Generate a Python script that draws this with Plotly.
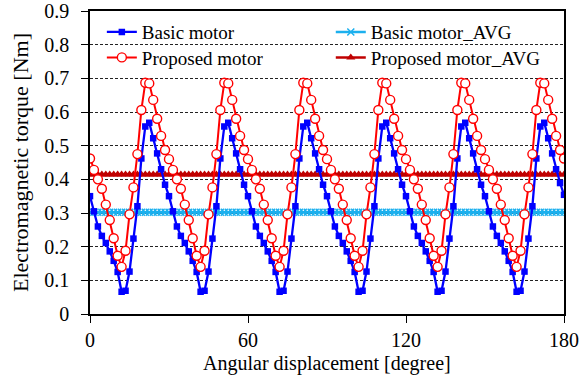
import plotly.graph_objects as go

# ---- data ----
STEP_DEG = 1.5
angle = [round(i * STEP_DEG, 1) for i in range(121)]

basic_motor = [
    0.350, 0.305, 0.260, 0.232, 0.211, 0.186, 0.158, 0.125, 0.066, 0.069,
    0.126, 0.224, 0.320, 0.462, 0.557, 0.568, 0.522, 0.477, 0.430, 0.384,
    0.350, 0.305, 0.260, 0.232, 0.211, 0.186, 0.158, 0.125, 0.066, 0.069,
    0.126, 0.224, 0.320, 0.462, 0.557, 0.568, 0.522, 0.477, 0.430, 0.384,
    0.350, 0.305, 0.260, 0.232, 0.211, 0.186, 0.158, 0.125, 0.066, 0.069,
    0.126, 0.224, 0.320, 0.462, 0.557, 0.568, 0.522, 0.477, 0.430, 0.384,
    0.350, 0.305, 0.260, 0.232, 0.211, 0.186, 0.158, 0.125, 0.066, 0.069,
    0.126, 0.224, 0.320, 0.462, 0.557, 0.568, 0.522, 0.477, 0.430, 0.384,
    0.350, 0.305, 0.260, 0.232, 0.211, 0.186, 0.158, 0.125, 0.066, 0.069,
    0.126, 0.224, 0.320, 0.462, 0.557, 0.568, 0.522, 0.477, 0.430, 0.384,
    0.350, 0.305, 0.260, 0.232, 0.211, 0.186, 0.158, 0.125, 0.066, 0.069,
    0.126, 0.224, 0.320, 0.462, 0.557, 0.568, 0.522, 0.477, 0.430, 0.389,
    0.354,
]

proposed_motor = [
    0.462, 0.428, 0.400, 0.372, 0.325, 0.279, 0.225, 0.173, 0.140, 0.188,
    0.296, 0.376, 0.475, 0.606, 0.687, 0.685, 0.636, 0.580, 0.529, 0.487,
    0.460, 0.428, 0.400, 0.372, 0.325, 0.279, 0.225, 0.173, 0.140, 0.188,
    0.296, 0.376, 0.475, 0.606, 0.687, 0.685, 0.636, 0.580, 0.529, 0.487,
    0.460, 0.428, 0.400, 0.372, 0.325, 0.279, 0.225, 0.173, 0.140, 0.188,
    0.296, 0.376, 0.475, 0.606, 0.687, 0.685, 0.636, 0.580, 0.529, 0.487,
    0.460, 0.428, 0.400, 0.372, 0.325, 0.279, 0.225, 0.173, 0.140, 0.188,
    0.296, 0.376, 0.475, 0.606, 0.687, 0.685, 0.636, 0.580, 0.529, 0.487,
    0.460, 0.428, 0.400, 0.372, 0.325, 0.279, 0.225, 0.173, 0.140, 0.188,
    0.296, 0.376, 0.475, 0.606, 0.687, 0.685, 0.636, 0.580, 0.529, 0.487,
    0.460, 0.428, 0.400, 0.372, 0.325, 0.279, 0.225, 0.173, 0.140, 0.188,
    0.296, 0.376, 0.475, 0.606, 0.687, 0.685, 0.636, 0.580, 0.529, 0.487,
    0.462,
]

basic_motor_avg_value = 0.302
proposed_motor_avg_value = 0.414
basic_motor_avg = [basic_motor_avg_value for _ in angle]
proposed_motor_avg = [proposed_motor_avg_value for _ in angle]

x_ticks = [0, 60, 120, 180]
y_ticks = [0, 0.1, 0.2, 0.3, 0.4, 0.5, 0.6, 0.7, 0.8, 0.9]
y_tick_text = ["0", "0.1", "0.2", "0.3", "0.4", "0.5", "0.6", "0.7", "0.8", "0.9"]

x_title = "Angular displacement [degree]"
y_title = "Electromagnetic torque [Nm]"

FONT = "Liberation Serif, Times New Roman, serif"

fig = go.Figure()

fig.add_trace(go.Scatter(
    x=angle, y=basic_motor_avg, name="Basic motor_AVG", mode="lines+markers",
    line=dict(color="#1CB0EE", width=2.5),
    marker=dict(symbol="x-thin", size=7, line=dict(color="#1CB0EE", width=1.5)),
    legend="legend2",
))
fig.add_trace(go.Scatter(
    x=angle, y=proposed_motor_avg, name="Proposed motor_AVG", mode="lines+markers",
    line=dict(color="#C00000", width=2.5),
    marker=dict(symbol="triangle-up", size=8, color="#C00000"),
    legend="legend4",
))
fig.add_trace(go.Scatter(
    x=angle, y=basic_motor, name="Basic motor", mode="lines+markers",
    line=dict(color="#0000FF", width=2.3),
    marker=dict(symbol="square", size=6.5, color="#0000FF"),
    legend="legend",
))
fig.add_trace(go.Scatter(
    x=angle, y=proposed_motor, name="Proposed motor", mode="lines+markers",
    line=dict(color="#FF0000", width=2),
    marker=dict(symbol="circle", size=9, color="white",
                line=dict(color="#FF0000", width=1.4)),
    legend="legend3",
))

legend_common = dict(
    font=dict(family=FONT, size=19, color="black"),
    bgcolor="rgba(0,0,0,0)", borderwidth=0,
    xanchor="left", yanchor="top", tracegroupgap=0, itemwidth=30,
)

ROW1_Y = 0.993
ROW2_Y = 0.909
COL1_X = 0.025
COL2_X = 0.508

fig.update_layout(
    width=582, height=377,
    margin=dict(l=90, r=18, t=11, b=63, autoexpand=False),
    paper_bgcolor="white", plot_bgcolor="white",
    font=dict(family=FONT, size=20, color="black"),
    showlegend=True,
    legend=dict(x=COL1_X, y=ROW1_Y, **legend_common),
    legend2=dict(x=COL2_X, y=ROW1_Y, **legend_common),
    legend3=dict(x=COL1_X, y=ROW2_Y, **legend_common),
    legend4=dict(x=COL2_X, y=ROW2_Y, **legend_common),
    xaxis=dict(
        range=[0, 180], tickvals=x_ticks, ticktext=[str(v) for v in x_ticks],
        automargin=False,
        showgrid=False, zeroline=False,
        showline=True, linecolor="black", linewidth=1.5, mirror=True,
        ticks="outside", ticklen=7, tickwidth=1.3, tickcolor="black",
        ticklabelstandoff=0, ticklabeloverflow="allow",
        tickfont=dict(family=FONT, size=20, color="black"),
    ),
    yaxis=dict(
        range=[0, 0.9], tickvals=y_ticks, ticktext=y_tick_text,
        automargin=False,
        showgrid=True, gridcolor="#222222", gridwidth=1, griddash="3px,2px",
        zeroline=False,
        showline=True, linecolor="black", linewidth=1.5, mirror=True,
        ticks="outside", ticklen=7, tickwidth=1.3, tickcolor="black",
        ticklabelstandoff=8, ticklabeloverflow="allow",
        tickfont=dict(family=FONT, size=20, color="black"),
        title=dict(text=y_title, standoff=10,
                   font=dict(family=FONT, size=22, color="black")),
    ),
    annotations=[dict(
        text=x_title, xref="paper", yref="paper", x=0.5, y=0,
        xanchor="center", yanchor="top", yshift=-36, showarrow=False,
        font=dict(family=FONT, size=20, color="black"),
    )],
)

fig.write_html("out.html")
